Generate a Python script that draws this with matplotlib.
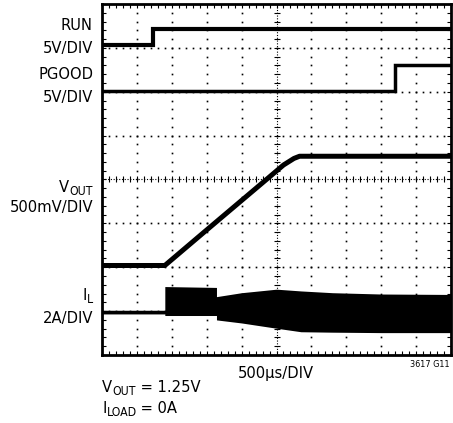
import numpy as np
import matplotlib
matplotlib.use('Agg')
import matplotlib.pyplot as plt
from matplotlib import font_manager as fm

# narrow sans face, like the scope screenshot
names = {f.name for f in fm.fontManager.ttflist}
if 'Liberation Sans Narrow' in names:
    plt.rcParams['font.family'] = ['Liberation Sans Narrow', 'DejaVu Sans']
    fs = 13.8
else:
    plt.rcParams['font.family'] = ['DejaVu Sans']
    plt.rcParams['font.stretch'] = 'condensed'
    fs = 11.8

# traces in screen divisions (x: 0..10, y: 0..8)
run_x = [0, 1.45, 1.45, 10]
run_y = [7.06, 7.06, 7.43, 7.43]

pgood_x = [0, 8.4, 8.4, 10]
pgood_y = [6.01, 6.01, 6.6, 6.6]

vout_x = [0, 1.8, 3.0, 4.8, 5.2, 5.5, 5.66, 10]
vout_y = [2.04, 2.04, 2.85, 4.06, 4.33, 4.48, 4.53, 4.53]

# inductor current envelope
il_x = [0, 1.8, 1.8, 3.28, 3.28, 4.0, 5.0, 5.7, 6.6, 8.0, 10]
il_top = [1.00, 1.00, 1.56, 1.54, 1.33, 1.42, 1.50, 1.46, 1.42, 1.39, 1.38]
il_bot = [0.94, 0.94, 0.90, 0.90, 0.80, 0.73, 0.61, 0.53, 0.52, 0.51, 0.51]

fig = plt.figure(figsize=(4.53, 4.23), dpi=100)
ax = fig.add_axes([102 / 453, 68 / 423, 349 / 453, 351 / 423])
ax.set_xlim(0, 10)
ax.set_ylim(0, 8)

# graticule
for i in range(1, 10):
    if i == 5:
        continue
    ys = np.arange(0, 8.01, 0.2)
    ax.plot([i] * len(ys), ys, ls='none', marker='s', ms=1.2, color='black', mew=0)
for j in range(1, 8):
    if j == 4:
        continue
    xs = np.arange(0, 10.01, 0.2)
    ax.plot(xs, [j] * len(xs), ls='none', marker='s', ms=1.2, color='black', mew=0)

# center cross with ticks
ax.axvline(5, color='black', lw=0.8, ls=(0, (1, 1.5)))
ax.axhline(4, color='black', lw=0.8, ls=(0, (1, 1.5)))
ys = np.arange(0, 8.01, 0.2)
ax.plot([5] * len(ys), ys, ls='none', marker='_', ms=5, mew=0.8, color='black')
xs = np.arange(0, 10.01, 0.2)
ax.plot(xs, [4] * len(xs), ls='none', marker='|', ms=5, mew=0.8, color='black')

# traces
ax.plot(run_x, run_y, color='black', lw=3.0, solid_joinstyle='miter')
ax.plot(pgood_x, pgood_y, color='black', lw=2.5, solid_joinstyle='miter')
ax.plot(vout_x, vout_y, color='black', lw=3.6)
ax.fill_between(il_x, il_bot, il_top, color='black', lw=0)
ax.plot([0, 1.8], [0.97, 0.97], color='black', lw=2.5)

# frame & ticks
for s in ax.spines.values():
    s.set_linewidth(2)
ax.set_xticks(np.arange(0, 10.01, 0.2))
ax.set_yticks(np.arange(0, 8.01, 0.2))
ax.tick_params(direction='in', length=3, width=0.8, top=True, right=True,
               labelbottom=False, labelleft=False)

renderer = fig.canvas.get_renderer()

def ftext(x, y, s, **kw):
    return fig.text(x / 453, 1 - y / 423, s, va='baseline', **kw)

def width(t):
    return t.get_window_extent(renderer).width

sub_fs = fs * 0.75

def sub_right(x, y, main, sub):
    # right aligned label with subscript, e.g. V_OUT
    t = ftext(x, y + 3, sub, ha='right', fontsize=sub_fs)
    ftext(x - width(t), y, main, ha='right', fontsize=fs)

def sub_left(x, y, main, sub, rest):
    t = ftext(x, y, main, ha='left', fontsize=fs)
    x2 = x + width(t)
    t2 = ftext(x2, y + 3, sub, ha='left', fontsize=sub_fs)
    ftext(x2 + width(t2), y, rest, ha='left', fontsize=fs)

ftext(93, 30, 'RUN', ha='right', fontsize=fs)
ftext(93, 53, '5V/DIV', ha='right', fontsize=fs)
ftext(93, 79, 'PGOOD', ha='right', fontsize=fs)
ftext(93, 102, '5V/DIV', ha='right', fontsize=fs)
sub_right(93, 192, 'V', 'OUT')
ftext(93, 212, '500mV/DIV', ha='right', fontsize=fs)
sub_right(93, 300, 'I', 'L')
ftext(93, 323, '2A/DIV', ha='right', fontsize=fs)
ftext(276, 378, '500µs/DIV', ha='center', fontsize=fs)
ftext(450, 367, '3617 G11', ha='right', fontsize=fs * 0.55)
sub_left(102, 392, 'V', 'OUT', ' = 1.25V')
sub_left(102, 413, 'I', 'LOAD', ' = 0A')

fig.savefig('out.png', dpi=100)
